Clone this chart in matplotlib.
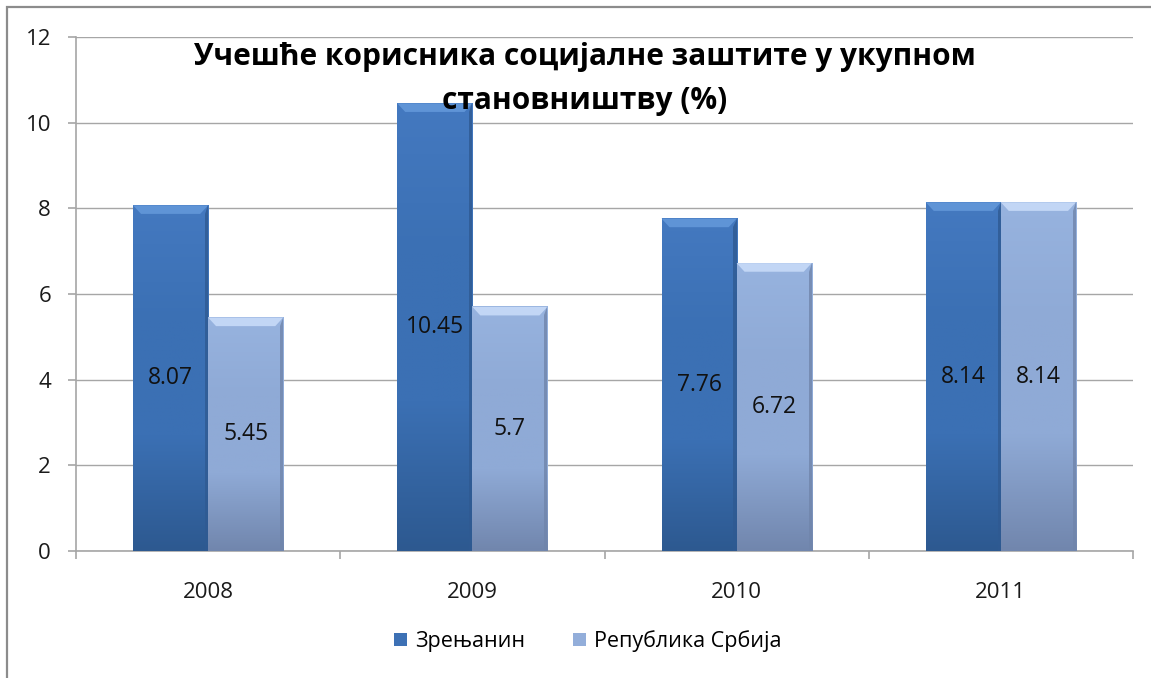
import numpy as np
import matplotlib
matplotlib.use('Agg')
import matplotlib.pyplot as plt
from matplotlib.colors import LinearSegmentedColormap
from matplotlib.patches import Polygon, Rectangle

plt.rcParams['font.family'] = ['Open Sans', 'DejaVu Sans']

# data
years = ['2008', '2009', '2010', '2011']
zrenjanin = [8.07, 10.45, 7.76, 8.14]
srbija = [5.45, 5.7, 6.72, 8.14]
series_names = ['Зрењанин', 'Република Србија']
title = 'Учешће корисника социјалне заштите у укупном\nстановништву (%)'

# colours (top, mid, bottom, bevel top, right side)
styles = [
    {'top': '#4479C0', 'mid': '#3B70B4', 'bot': '#2D5990', 'bev': '#5F94D6', 'side': '#2F5A92', 'face': '#3D71B5'},
    {'top': '#97B3DF', 'mid': '#8FAAD6', 'bot': '#7186AD', 'bev': '#C2D6F5', 'side': '#7085AB', 'face': '#93AEDA'},
]

fig = plt.figure(figsize=(11.51, 6.78), dpi=100)
ax = fig.add_axes([76 / 1151, 1 - 551 / 678, (1133 - 76) / 1151, (551 - 37) / 678])

x = np.arange(len(years))
w = 0.284
ax.yaxis.grid(True, color='#a6a6a6', lw=1)
ax.set_axisbelow(True)

bar_groups = []
for i, vals in enumerate([zrenjanin, srbija]):
    st = styles[i]
    offs = (i - 0.5) * w
    bars = ax.bar(x + offs, vals, w, color=st['face'], zorder=2, label=series_names[i])
    bar_groups.append(bars)
    cmap = LinearSegmentedColormap.from_list('g%d' % i, [st['top'], st['mid'], st['mid'], st['bot']])
    grad = np.linspace(0, 1, 256).reshape(-1, 1)
    for b in bars:
        x0, bw, h = b.get_x(), b.get_width(), b.get_height()
        ax.imshow(grad, extent=(x0, x0 + bw, 0, h), cmap=cmap, aspect='auto', zorder=3)
        dx = 0.03
        dy = 0.2
        ax.add_patch(Polygon([(x0, h), (x0 + bw, h), (x0 + bw - dx, h - dy), (x0 + dx, h - dy)],
                             closed=True, color=st['bev'], zorder=4, lw=0))
        ax.add_patch(Polygon([(x0 + bw, h), (x0 + bw, 0), (x0 + bw - 0.012, 0), (x0 + bw - 0.012, h - dy)],
                             closed=True, color=st['side'], zorder=4, lw=0, alpha=0.8))
        ax.text(x0 + bw / 2, h / 2, '%g' % h, ha='center', va='center', fontsize=16.5,
                color='#111111', zorder=5)

ax.set_xlim(-0.5, 3.5)
ax.set_ylim(0, 12)
ax.set_yticks(range(0, 13, 2))
ax.set_xticks(x)
ax.set_xticklabels(years)
ax.set_xticks([-0.5, 0.5, 1.5, 2.5, 3.5], minor=True)
ax.tick_params(axis='x', which='major', length=0, pad=22, labelsize=16, labelcolor='#1a1a1a')
ax.tick_params(axis='x', which='minor', length=6, color='#a6a6a6', width=1.2)
ax.tick_params(axis='y', length=6, color='#a6a6a6', width=1.2, pad=12, labelsize=16, labelcolor='#1a1a1a')
for s in ['top', 'right']:
    ax.spines[s].set_visible(False)
for s in ['left', 'bottom']:
    ax.spines[s].set_color('#a6a6a6')
    ax.spines[s].set_linewidth(1.2)

fig.text(585 / 1151, 1 - 42 / 678, title, ha='center', va='top', fontsize=21.5,
         fontweight='bold', linespacing=1.62, color='black')

fig.legend(handles=[bar_groups[0], bar_groups[1]], labels=series_names, loc='center',
           bbox_to_anchor=(588 / 1151, 1 - 641 / 678), ncol=2, frameon=False,
           fontsize=15.5, handlelength=0.6, handleheight=0.6, handletextpad=0.4,
           columnspacing=2.2)

# outer frame (only left and top are visible in the crop)
fig.add_artist(Rectangle((7 / 1151, -0.1), 1.2, 1.1 - 7 / 678, transform=fig.transFigure,
                         fill=False, ec='#8c8c8c', lw=1.6))

fig.savefig('out.png', dpi=100)
